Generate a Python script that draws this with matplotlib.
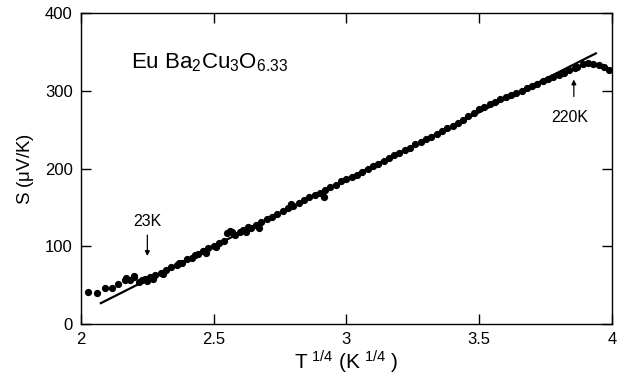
import matplotlib
matplotlib.use("Agg")
import matplotlib.pyplot as plt

plt.rcParams['font.family'] = ['Liberation Sans', 'DejaVu Sans']
plt.rcParams['mathtext.default'] = 'regular'

# Data (x = T^{1/4}, y = S in uV/K)
t14 = [2.025, 2.06, 2.09, 2.117, 2.14, 2.165, 2.17, 2.183, 2.198, 2.20,
       2.22, 2.23, 2.24, 2.25, 2.26, 2.27, 2.28, 2.30, 2.31, 2.32,
       2.34, 2.36, 2.37, 2.38, 2.40, 2.42, 2.43, 2.44, 2.46, 2.47,
       2.48, 2.50, 2.51, 2.52, 2.54, 2.55, 2.56, 2.57, 2.58, 2.60,
       2.61, 2.62, 2.63, 2.64, 2.66, 2.67, 2.68, 2.70, 2.72, 2.74,
       2.76, 2.78, 2.79, 2.80, 2.82, 2.84, 2.86, 2.88, 2.90, 2.915,
       2.92, 2.94, 2.96, 2.98, 3.00, 3.02, 3.04, 3.06, 3.08, 3.10,
       3.12, 3.14, 3.16, 3.18, 3.20, 3.22, 3.24, 3.26, 3.28, 3.30,
       3.32, 3.34, 3.36, 3.38, 3.40, 3.42, 3.44, 3.46, 3.48, 3.50,
       3.52, 3.54, 3.56, 3.58, 3.60, 3.62, 3.64, 3.66, 3.68, 3.70,
       3.72, 3.74, 3.76, 3.78, 3.80, 3.82, 3.84, 3.86, 3.87, 3.89,
       3.91, 3.93, 3.95, 3.97, 3.99]
seebeck = [41, 40, 46, 47, 51, 57, 59, 57, 62, 60,
           54, 57, 58, 56, 60, 58, 63, 66, 64, 69,
           74, 76, 79, 78, 84, 85, 89, 90, 94, 91,
           98, 101, 99, 104, 107, 117, 120, 118, 115, 118,
           121, 119, 125, 123, 128, 124, 131, 135, 138, 141,
           145, 149, 154, 152, 156, 159, 164, 166, 169, 163,
           172, 176, 179, 184, 186, 189, 192, 196, 199, 203,
           206, 210, 213, 217, 220, 224, 227, 231, 234, 238,
           241, 245, 248, 252, 255, 259, 263, 268, 272, 276,
           279, 283, 286, 289, 292, 294, 297, 300, 303, 306,
           309, 312, 315, 318, 320, 323, 327, 329, 331, 334,
           335, 334, 333, 331, 327]

# Straight-line fit endpoints
fit_x = [2.075, 3.94]
fit_y = [27, 348]

x_ticks = [2, 2.5, 3, 3.5, 4]
x_ticklabels = ['2', '2.5', '3', '3.5', '4']
y_ticks = [0, 100, 200, 300, 400]

fig = plt.figure(figsize=(6.23, 3.80), dpi=100)
ax = fig.add_axes([0.130, 0.147, 0.852, 0.819])

ax.plot(fit_x, fit_y, color='black', lw=1.6, zorder=2)
ax.plot(t14, seebeck, linestyle='none', marker='o', ms=4.2,
        mfc='black', mec='black', zorder=3)

ax.set_xlim(2, 4)
ax.set_ylim(0, 400)
ax.set_xticks(x_ticks)
ax.set_xticklabels(x_ticklabels)
ax.set_yticks(y_ticks)
ax.tick_params(direction='in', length=7, width=1, top=True, right=True,
               labelsize=12, pad=6)
for s in ax.spines.values():
    s.set_linewidth(1.0)

ax.set_xlabel(r'T$^{\ 1/4}$ (K$^{\ 1/4}$ )', fontsize=15, labelpad=1)
ax.set_ylabel(r'S ($\mu$V/K)', fontsize=13.5, labelpad=6)

ax.text(2.19, 336, r'Eu Ba$_2$Cu$_3$O$_{6.33}$', fontsize=16,
        ha='left', va='center')

ax.annotate('', xy=(2.25, 84), xytext=(2.25, 118),
            arrowprops=dict(arrowstyle='-|>', color='black', lw=0.9,
                            mutation_scale=7))
ax.text(2.25, 132, '23K', fontsize=11.5, ha='center', va='center')

ax.annotate('', xy=(3.857, 318), xytext=(3.857, 289),
            arrowprops=dict(arrowstyle='-|>', color='black', lw=0.9,
                            mutation_scale=7))
ax.text(3.84, 265, '220K', fontsize=11.5, ha='center', va='center')

fig.savefig('out.png', dpi=100)
